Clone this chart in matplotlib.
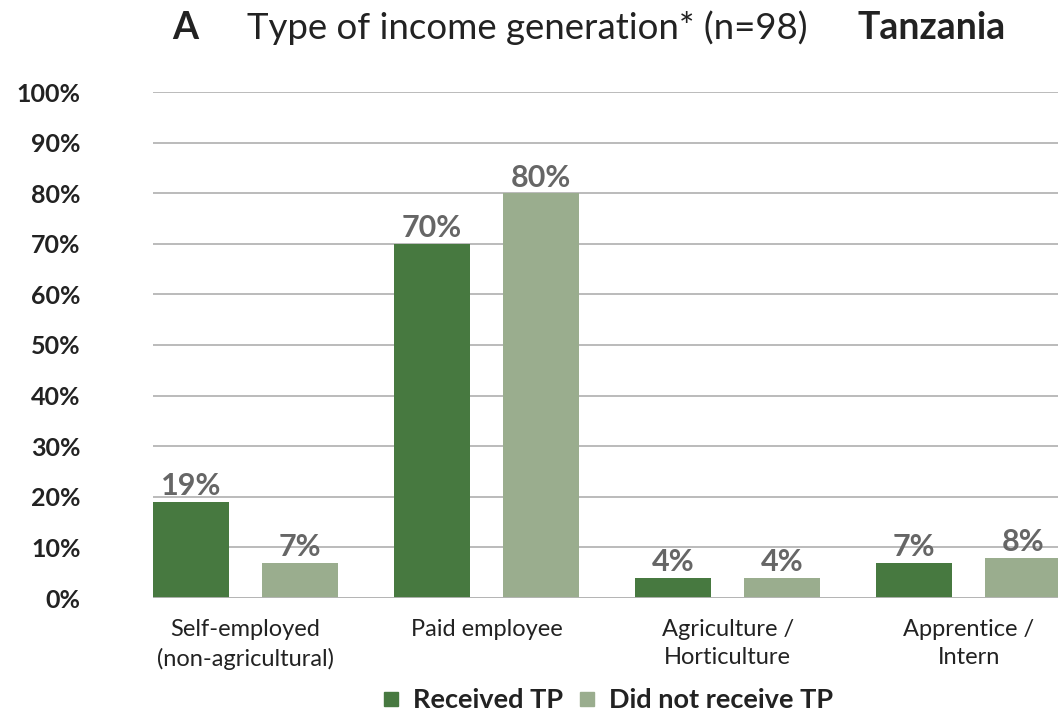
import matplotlib
matplotlib.use("Agg")
import matplotlib.pyplot as plt
import numpy as np
from matplotlib.lines import Line2D

# datos
categorias = ["Self-employed\n(non-agricultural)", "Paid employee",
              "Agriculture /\nHorticulture", "Apprentice /\nIntern"]
recibio_tp = [19, 70, 4, 7]
no_recibio_tp = [7, 80, 4, 8]
ticks_y = [0, 10, 20, 30, 40, 50, 60, 70, 80, 90, 100]

verde_oscuro = "#477940"
verde_claro = "#9aad8e"
gris_texto = "#666666"
texto = "#222222"

plt.rcParams['font.family'] = ['Lato', 'DejaVu Sans']

fig = plt.figure(figsize=(10.58, 7.16), dpi=100)
ax = fig.add_axes([153 / 1058, 118 / 716, 905 / 1058, 506 / 716])

x = np.arange(len(categorias))
ancho = 0.315
desp = 0.226

b1 = ax.bar(x - desp, recibio_tp, ancho, color=verde_oscuro, zorder=3)
b2 = ax.bar(x + desp, no_recibio_tp, ancho, color=verde_claro, zorder=3)

for barras in (b1, b2):
    ax.bar_label(barras, fmt='{:.0f}%', padding=1, color=gris_texto,
                 fontsize=22, fontweight='bold')

ax.set_xlim(-0.384, 3.371)
ax.set_ylim(0, 100)
ax.set_yticks(ticks_y)
ax.set_yticklabels([f"{t}%" for t in ticks_y], fontsize=18,
                   fontweight='bold', color=texto)
ax.set_xticks(x)
ax.set_xticklabels(categorias, fontsize=17, color=texto, linespacing=1.45)
ax.tick_params(axis='both', length=0)
ax.tick_params(axis='y', pad=52)
ax.tick_params(axis='x', pad=15)

ax.grid(axis='y', color='#b5b5b5', linewidth=1.3, zorder=0)
for s in ax.spines.values():
    s.set_visible(False)
ax.axhline(0, color='#b5b5b5', linewidth=1.3, zorder=4)

# titulo
y_tit = 1 - 28 / 716
fig.text(172 / 1058, y_tit, "A", fontsize=27, fontweight='bold',
         color=texto, va='center', ha='left')
fig.text(247 / 1058, y_tit, "Type of income generation* (n=98)",
         fontsize=26.4, color=texto, va='center', ha='left')
fig.text(857 / 1058, y_tit, "Tanzania", fontsize=27,
         fontweight='bold', color=texto, va='center', ha='left')

# leyenda
handles = [
    Line2D([], [], marker='s', linestyle='none', markersize=10,
           markerfacecolor=verde_oscuro, markeredgecolor=verde_oscuro),
    Line2D([], [], marker='s', linestyle='none', markersize=10,
           markerfacecolor=verde_claro, markeredgecolor=verde_claro),
]
leg = fig.legend(handles, ["Received TP", "Did not receive TP"],
                 loc='center', bbox_to_anchor=(608 / 1058, 1 - 700 / 716),
                 ncol=2, frameon=False, handlelength=0.6, handletextpad=0.5,
                 columnspacing=0.6, borderpad=0,
                 prop={'size': 19.5, 'weight': 'bold'})
for t in leg.get_texts():
    t.set_color(texto)

fig.savefig("out.png", dpi=100)
